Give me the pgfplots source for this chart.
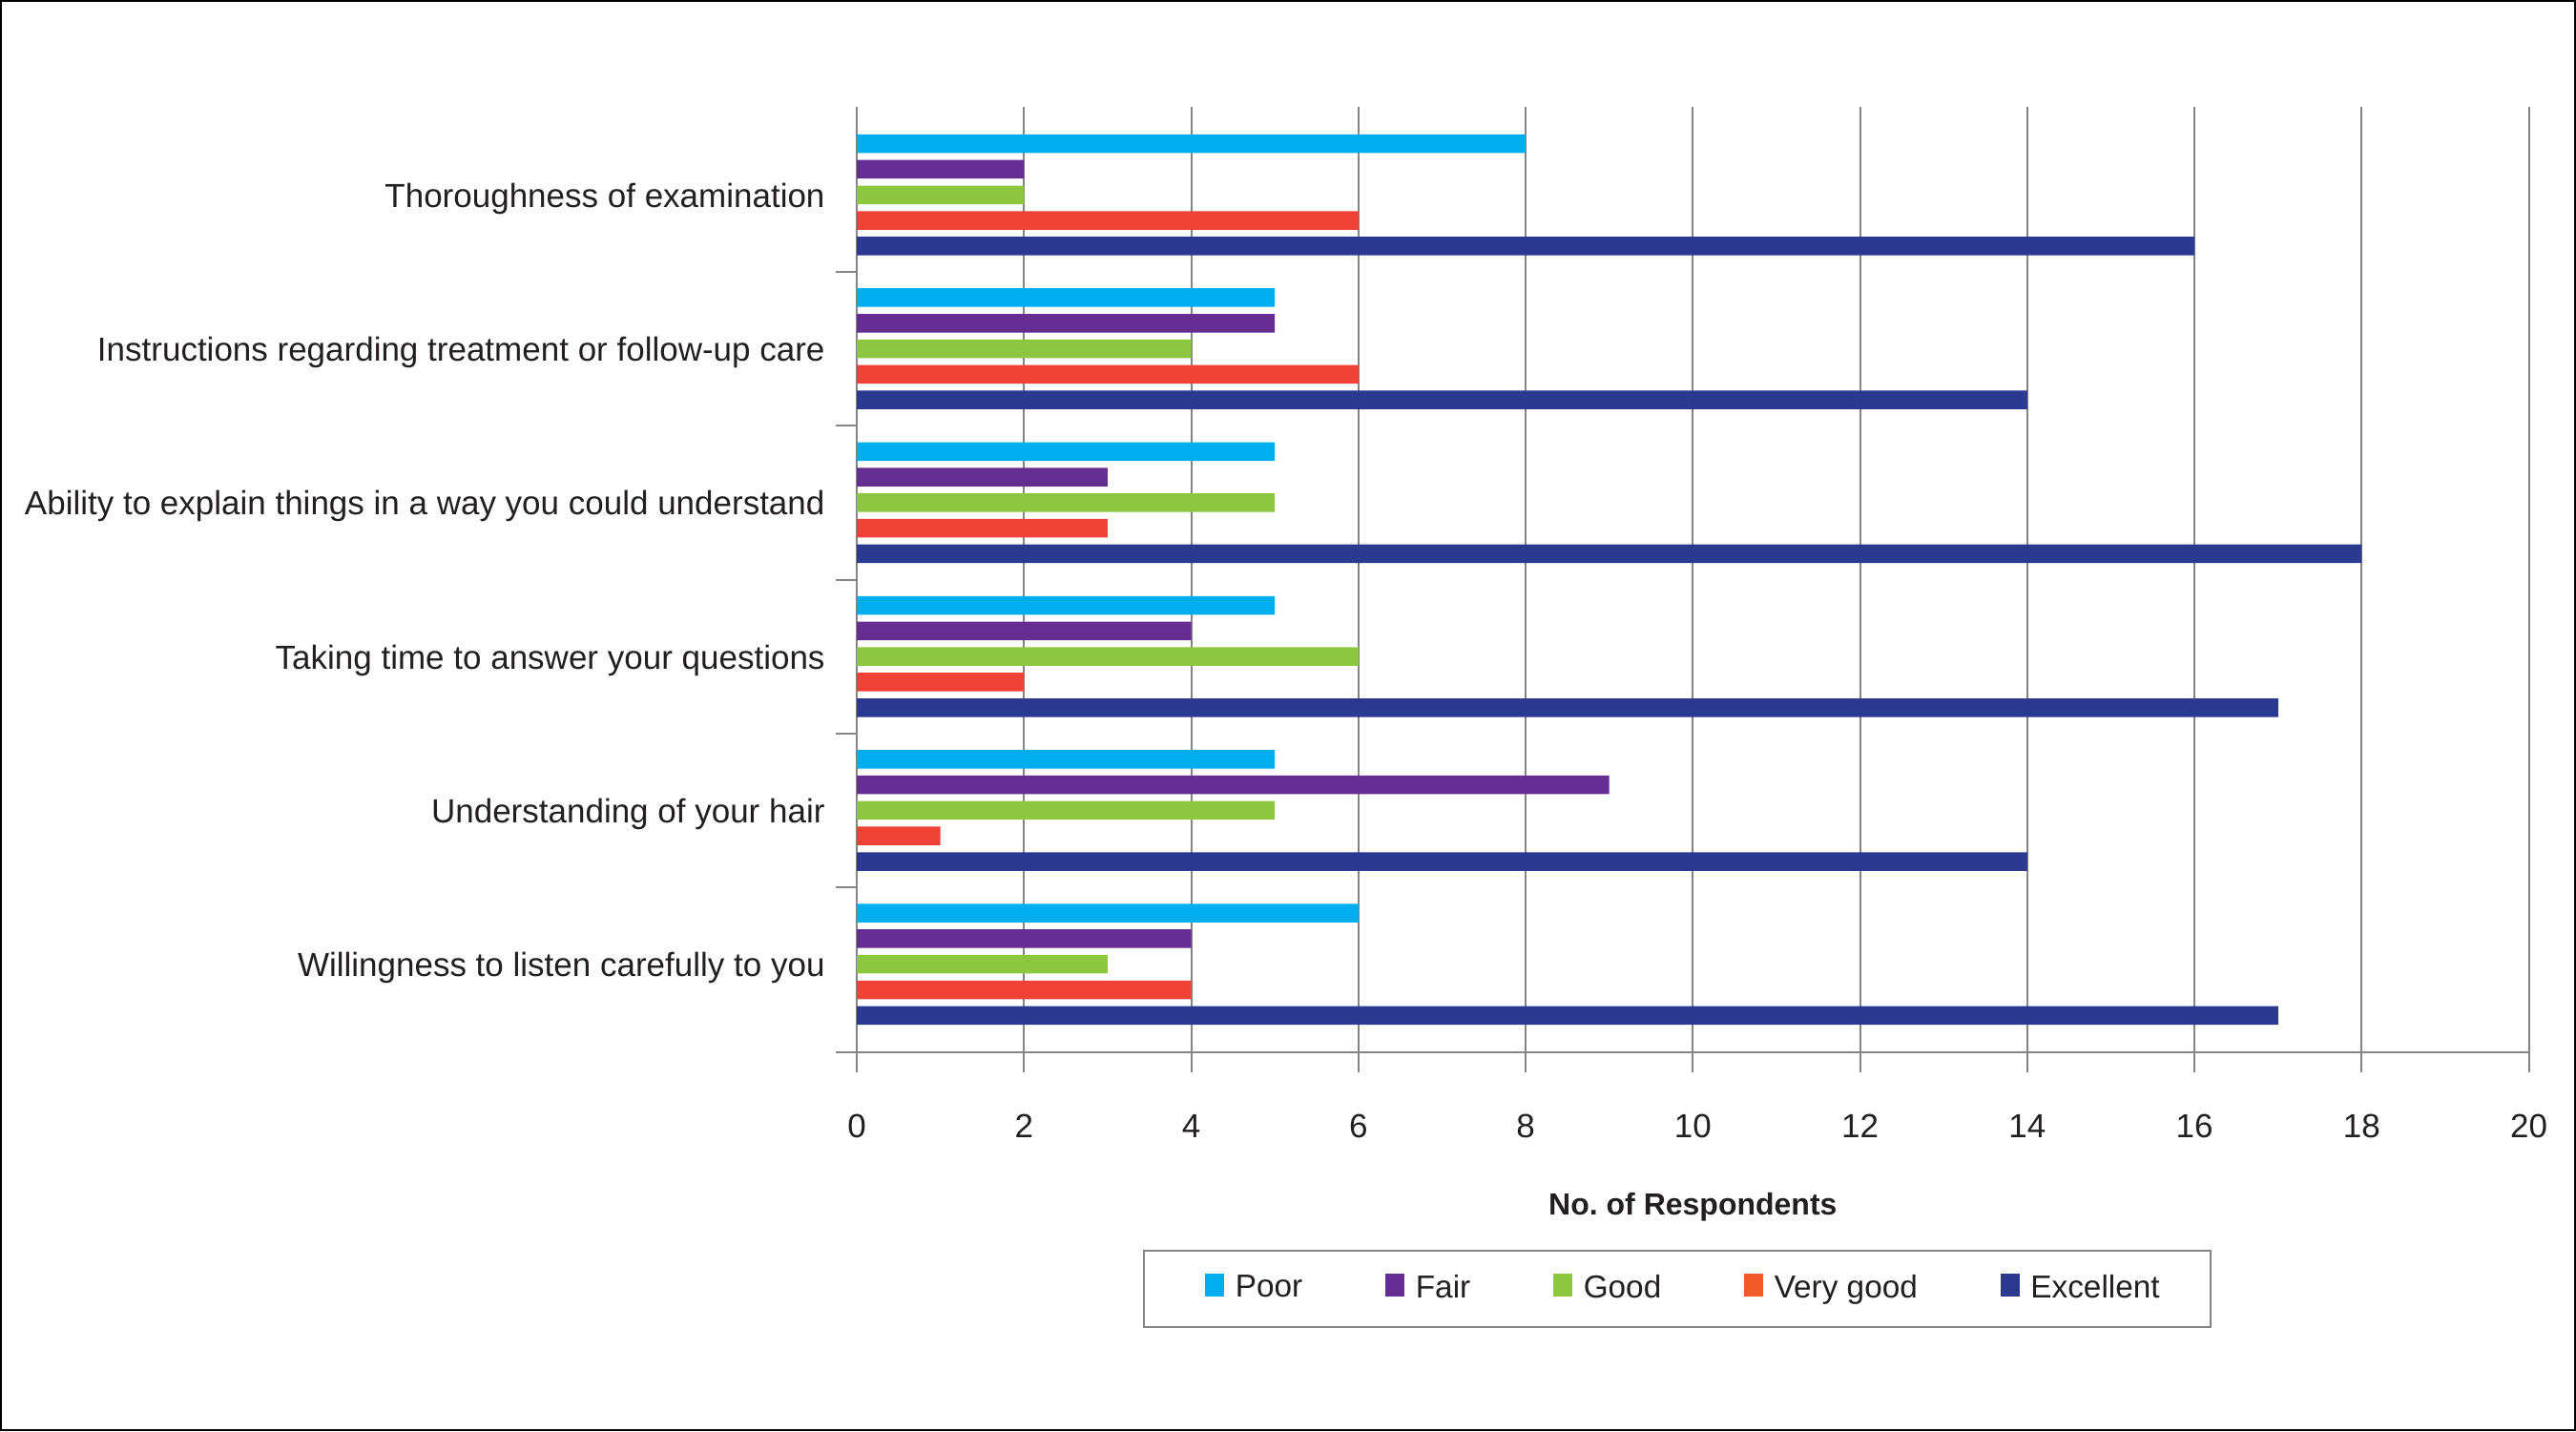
\documentclass[border=0pt]{standalone}
\usepackage{fontspec}
\setmainfont{Liberation Sans}
\usepackage{pgfplots}
\pgfplotsset{compat=1.18}
\definecolor{cPoor}{HTML}{00AEEF}
\definecolor{cFair}{HTML}{662D91}
\definecolor{cGood}{HTML}{8DC63F}
\definecolor{cVG}{HTML}{EF4136}
\definecolor{cVGleg}{HTML}{F15A29}
\definecolor{cExc}{HTML}{2B3990}
\definecolor{txt}{HTML}{231F20}
\definecolor{gridc}{HTML}{858585}
\pgfplotsset{
  mybar/.style n args={3}{draw=none, fill=#1, bar width=5.85pt,
    legend image code/.code={\path (#3,0pt); \fill[fill=#2] (0pt,-0.25em) rectangle (6pt,0.47em); \path (7.55pt,0pt);}},
}
\begin{document}
\begin{tikzpicture}
\useasboundingbox (0,0) rectangle (810pt,450pt);
\draw[black, line width=0.7pt] (0.35pt,0.35pt) rectangle (809.65pt,449.65pt);
\begin{axis}[
  at={(269.4pt,119.2pt)}, anchor=south west,
  scale only axis, width=525.8pt, height=297.1pt,
  xbar,
  xmin=0, xmax=20, ymin=-0.57, ymax=5.57,
  xtick={0,2,...,20},
  ytick={0,...,5},
  yticklabels={Willingness to listen carefully to you, Understanding of your hair, Taking time to answer your questions, Ability to explain things in a way you could understand, Instructions regarding treatment or follow-up care, Thoroughness of examination},
  axis lines*=left,
  axis line style={draw=gridc, line width=0.6pt},
  tick align=outside,
  major tick length=6.5pt,
  x tick style={draw=gridc, line width=0.6pt},
  y tick style={draw=none},
  extra y ticks={-0.57,0.5,1.5,2.5,3.5,4.5},
  extra y tick labels={},
  extra y tick style={grid=none, y tick style={draw=gridc, line width=0.6pt}},
  xmajorgrids,
  grid style={draw=gridc, line width=0.6pt},
  /pgf/number format/assume math mode=true,
  xticklabel style={font=\fontsize{10.5}{12}\selectfont, text=txt, yshift=-9.6pt},
  yticklabel style={font=\fontsize{10.5}{12}\selectfont, text=txt, yshift=-1.2pt},
  xlabel={No.\ of Respondents},
  xlabel style={at={(axis description cs:0.5,0)}, anchor=center, yshift=-48.7pt, font=\fontsize{9.6}{11}\selectfont\bfseries, text=txt},
  legend columns=5,
  legend style={at={(axis description cs:0.4907,-0.2094)}, anchor=north,
    draw=gridc, line width=0.6pt, font=\fontsize{10}{12}\selectfont, text=txt,
    inner xsep=14pt, inner ysep=5.6pt,
    /tikz/every even column/.append style={column sep=24pt}},
  legend cell align=left,
]
\addplot[mybar={cPoor}{cPoor}{-5.2pt}, bar shift=16.08pt] coordinates {(6,0) (5,1) (5,2) (5,3) (5,4) (8,5)};
\addplot[mybar={cFair}{cFair}{0pt}, bar shift=8.04pt] coordinates {(4,0) (9,1) (4,2) (3,3) (5,4) (2,5)};
\addplot[mybar={cGood}{cGood}{0pt}, bar shift=0pt] coordinates {(3,0) (5,1) (6,2) (5,3) (4,4) (2,5)};
\addplot[mybar={cVG}{cVGleg}{0pt}, bar shift=-8.04pt] coordinates {(4,0) (1,1) (2,2) (3,3) (6,4) (6,5)};
\addplot[mybar={cExc}{cExc}{0pt}, bar shift=-16.08pt] coordinates {(17,0) (14,1) (17,2) (18,3) (14,4) (16,5)};
\legend{Poor, Fair, Good, Very good, Excellent}
\end{axis}
\end{tikzpicture}
\end{document}
